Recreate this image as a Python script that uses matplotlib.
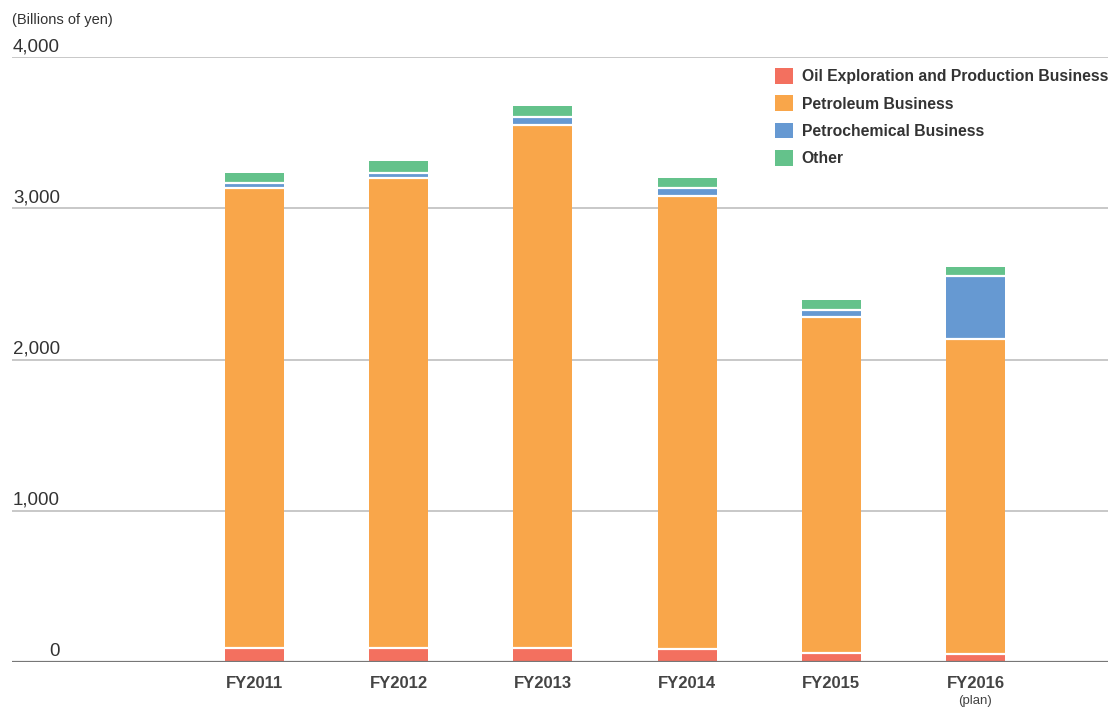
import matplotlib
matplotlib.use("Agg")
import matplotlib.pyplot as plt
import numpy as np

plt.rcParams['font.family'] = ['Liberation Sans', 'DejaVu Sans']

# 年度別データ (単位: 十億円)
years = ["FY2011", "FY2012", "FY2013", "FY2014", "FY2015", "FY2016"]
oil_ep = [90, 90, 95, 85, 60, 50]
petroleum = [3045, 3110, 3455, 2996, 2221, 2086]
petrochem = [35, 30, 53, 53, 46, 416]
other = [65, 82, 73, 66, 66, 60]

series_names = ["Oil Exploration and Production Business", "Petroleum Business",
                "Petrochemical Business", "Other"]
colors = ["#f3705f", "#f9a64a", "#6699d2", "#64c28b"]
y_ticks = [0, 1000, 2000, 3000, 4000]

fig = plt.figure(figsize=(11.11, 7.07), dpi=100)
ax = fig.add_axes([12 / 1111, 45 / 707, 1096 / 1111, 605 / 707])

x = np.arange(len(years))
w = 0.41
bottom = np.zeros(len(years))
handles = []
for vals, name, c in zip([oil_ep, petroleum, petrochem, other], series_names, colors):
    b = ax.bar(x, vals, width=w, bottom=bottom, color=c, edgecolor="none",
               label=name, zorder=3)
    handles.append(b)
    bottom += np.array(vals)
    # 区切りの白線
    if name != "Other":
        ax.hlines(bottom, x - w / 2, x + w / 2, colors="white", lw=1.6,
                  capstyle="butt", zorder=4)

ax.set_xlim(-1.682, 5.919)
ax.set_ylim(0, 4000)

# グリッド線とラベル
for t in y_ticks:
    if t == 0:
        ax.axhline(t, color="#777777", lw=1.6, zorder=5)
    else:
        ax.axhline(t, color="#c4c4c4", lw=1.3, zorder=1)
    ax.annotate(f"{t:,}", xy=(0.0438, t), xycoords=ax.get_yaxis_transform(),
                xytext=(0, 6), textcoords="offset pixels", ha="right", va="baseline",
                fontsize=13.5, color="#333333")

ax.set_yticks([])
ax.set_xticks(x)
ax.set_xticklabels(years, fontsize=12, fontweight="bold", color="#444444")
ax.tick_params(axis="x", length=0, pad=10)
ax.annotate("(plan)", xy=(x[-1], 0), xycoords=ax.get_xaxis_transform(),
            xytext=(0, -39), textcoords="offset pixels", ha="center", va="center",
            fontsize=9.5, color="#444444")
for s in ax.spines.values():
    s.set_visible(False)

fig.text(12 / 1111, 1 - 20 / 707, "(Billions of yen)", fontsize=10.5, color="#333333",
         ha="left", va="center")

leg = fig.legend(handles=[h[0] for h in handles], labels=series_names,
                 loc="upper left", bbox_to_anchor=(775 / 1111, 1 - 68 / 707),
                 frameon=False, borderpad=0, borderaxespad=0,
                 handlelength=1.15, handleheight=1.15, handletextpad=0.55,
                 labelspacing=0.72, prop={"weight": "bold", "size": 11.3})
for t in leg.get_texts():
    t.set_color("#333333")
for p in leg.legend_handles:
    p.set_edgecolor("none")

fig.savefig("out.png", dpi=100)
